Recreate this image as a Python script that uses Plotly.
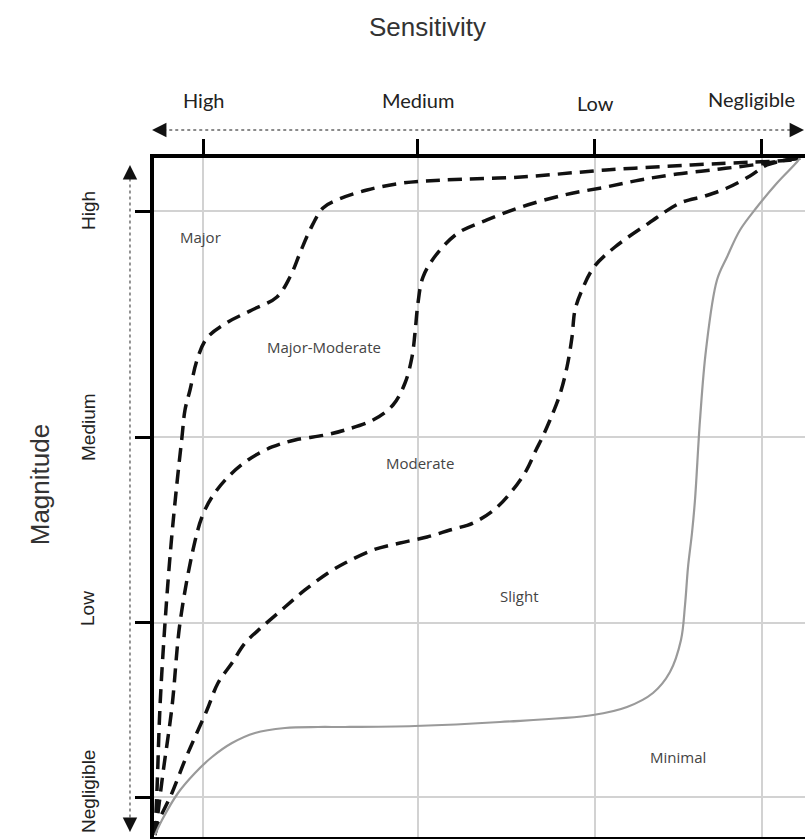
import plotly.graph_objects as go

# ---------------- data ----------------
sens_levels = ["High", "Medium", "Low", "Negligible"]
sens_ticks = [7.53, 40.55, 67.74, 93.39]
mag_levels = ["High", "Medium", "Low", "Negligible"]
mag_ticks = [92.19, 58.91, 31.52, 5.89]

# boundary Major / Major-Moderate
curve_a_x = [0.15, 0.46, 0.92, 1.69, 2.61, 3.53, 4.30, 4.76, 5.53, 6.61, 8.14, 11.37, 15.05,
             18.89, 20.89, 22.43, 23.96, 25.96, 28.11, 32.72, 38.25, 44.39, 56.37, 69.43,
             82.49, 92.17, 98.00, 99.23]
curve_a_y = [0.29, 6.92, 19.15, 31.52, 43.00, 52.14, 58.91, 62.89, 65.83, 70.25, 73.49, 75.85,
             77.61, 79.53, 82.47, 86.01, 89.40, 92.64, 93.81, 95.29, 96.32, 96.76, 97.20, 98.23,
             98.97, 99.41, 99.71, 100.0]

# boundary Major-Moderate / Moderate
curve_b_x = [0.15, 0.61, 1.38, 2.76, 3.99, 5.99, 7.37, 8.91, 11.37, 14.44, 18.13, 21.66, 26.27,
             29.34, 33.64, 36.71, 38.56, 39.63, 40.09, 40.55, 41.32, 43.32, 46.70, 51.15, 56.37,
             62.98, 69.43, 74.65, 80.34, 86.94, 93.09, 98.16, 99.23]
curve_b_y = [0.29, 3.53, 9.43, 19.15, 31.52, 42.27, 47.13, 50.07, 53.02, 55.52, 57.44, 58.47,
             59.20, 59.94, 61.41, 63.62, 66.86, 70.69, 74.23, 78.65, 82.47, 85.71, 88.95, 90.87,
             92.78, 94.55, 95.73, 96.76, 97.64, 98.38, 99.12, 99.85, 100.0]

# boundary Moderate / Slight
curve_c_x = [0.15, 0.61, 2.76, 4.76, 6.30, 8.14, 9.83, 11.98, 13.98, 16.59, 20.12, 23.19, 26.73,
             29.34, 33.64, 37.79, 41.94, 45.47, 49.00, 52.38, 54.99, 57.14, 58.68, 59.60, 60.83,
             62.37, 63.44, 64.21, 64.67, 65.75, 67.59, 70.81, 76.04, 80.80, 84.64, 88.02, 91.55,
             94.16, 97.24, 99.23]
curve_c_y = [0.29, 2.06, 6.48, 11.34, 14.73, 18.70, 22.68, 25.63, 28.57, 30.93, 33.87, 36.38,
             38.88, 40.35, 42.27, 43.30, 44.18, 45.21, 46.24, 48.31, 50.96, 53.90, 57.00, 58.76,
             61.41, 65.24, 69.22, 73.64, 77.61, 80.56, 83.95, 86.89, 90.43, 93.37, 94.40, 95.58,
             97.35, 98.97, 99.71, 100.0]

# boundary Slight / Minimal
curve_d_x = [0.15, 1.23, 3.69, 6.30, 8.91, 11.98, 15.51, 20.12, 25.19, 29.34, 40.09, 53.15,
             67.43, 72.66, 76.65, 79.26, 80.95, 81.57, 82.03, 82.64, 83.10, 83.87, 84.79, 86.48,
             88.02, 90.02, 92.63, 95.70, 98.77, 99.23]
curve_d_y = [0.29, 2.50, 6.48, 9.43, 11.78, 13.84, 15.32, 16.05, 16.20, 16.20, 16.35, 16.94,
             17.97, 19.15, 21.21, 24.30, 29.01, 34.17, 39.76, 44.77, 49.63, 61.41, 71.72, 82.03,
             85.42, 89.40, 92.78, 96.32, 99.41, 100.0]

regions = ["Major", "Major-Moderate", "Moderate", "Slight", "Minimal"]
region_x = [7.2, 26.1, 40.9, 56.2, 80.5]
region_y = [88.4, 72.2, 55.1, 35.5, 11.8]

# ---------------- figure ----------------
fig = go.Figure()

dash_style = dict(color="#111111", width=3.5, dash="14px,8px", shape="spline", smoothing=1.0)
for cx, cy in [(curve_a_x, curve_a_y), (curve_b_x, curve_b_y), (curve_c_x, curve_c_y)]:
    fig.add_trace(go.Scatter(x=cx, y=cy, mode="lines", line=dash_style,
                             hoverinfo="skip", showlegend=False))
fig.add_trace(go.Scatter(x=curve_d_x, y=curve_d_y, mode="lines",
                         line=dict(color="#9a9a9a", width=2.2, shape="spline", smoothing=1.0),
                         hoverinfo="skip", showlegend=False))

annotations = []
for name, x, y in zip(regions, region_x, region_y):
    annotations.append(dict(x=x, y=y, xref="x", yref="y", text=name, showarrow=False,
                            font=dict(family="Open Sans", size=15, color="#444444")))

# sensitivity level labels (top)
top_xshift = [0, 0, 1, -10]
top_yshift = [58, 58, 55, 59]
for lab, t, xs, ys in zip(sens_levels, sens_ticks, top_xshift, top_yshift):
    annotations.append(dict(x=t, y=1, xref="x", yref="paper", text=lab, showarrow=False,
                            xshift=xs, yshift=ys, yanchor="middle",
                            font=dict(family="Lato", size=20, color="#222222")))

# magnitude level labels (left, rotated)
left_yshift = [0, 10, 14, 5]
for lab, t, ys in zip(mag_levels, mag_ticks, left_yshift):
    annotations.append(dict(x=0, y=t, xref="paper", yref="y", text=lab, showarrow=False,
                            xshift=-66, yshift=ys, textangle=-90, xanchor="center",
                            font=dict(family="Liberation Sans", size=19, color="#222222")))

# axis titles
annotations.append(dict(x=0.4194, y=1, xref="paper", yref="paper", text="Sensitivity",
                        showarrow=False, yshift=131, yanchor="middle",
                        font=dict(family="Liberation Sans", size=26, color="#333333")))
annotations.append(dict(x=0, y=0.518, xref="paper", yref="paper", text="Magnitude",
                        showarrow=False, xshift=-131, textangle=-90,
                        font=dict(family="Liberation Sans", size=26, color="#333333")))

# arrowheads for the two double-headed guide arrows
arrow_common = dict(text="", showarrow=True, arrowhead=2, arrowsize=1.8, arrowwidth=1.6,
                    arrowcolor="#111111", axref="pixel", ayref="pixel")
annotations.append(dict(x=-0.003, y=1.0412, xref="paper", yref="paper", ax=14, ay=0, **arrow_common))
annotations.append(dict(x=1.0, y=1.0412, xref="paper", yref="paper", ax=-14, ay=0, **arrow_common))
annotations.append(dict(x=-0.0369, y=0.9897, xref="paper", yref="paper", ax=0, ay=14, **arrow_common))
annotations.append(dict(x=-0.0369, y=0.0074, xref="paper", yref="paper", ax=0, ay=-14, **arrow_common))

shapes = [
    dict(type="line", xref="paper", yref="paper", x0=0.005, x1=0.99, y0=1.0412, y1=1.0412,
         line=dict(color="#666666", width=1.4, dash="dot")),
    dict(type="line", xref="paper", yref="paper", x0=-0.0369, x1=-0.0369, y0=0.02, y1=0.975,
         line=dict(color="#666666", width=1.4, dash="dot")),
]

axis_common = dict(range=[0, 100], showticklabels=False, ticks="outside", ticklen=15,
                   tickwidth=3, tickcolor="black", showline=True, linewidth=4,
                   linecolor="black", showgrid=True, gridcolor="#d2d2d2", gridwidth=1.5,
                   zeroline=False, fixedrange=True)

fig.update_layout(
    width=805, height=839,
    margin=dict(l=154, r=0, t=158, b=2, autoexpand=False),
    paper_bgcolor="white", plot_bgcolor="white",
    xaxis=dict(side="top", tickvals=sens_ticks, mirror=True, **axis_common),
    yaxis=dict(tickvals=mag_ticks, **axis_common),
    annotations=annotations, shapes=shapes,
    showlegend=False,
)

fig.write_html("out.html", config={"displayModeBar": False},
               post_script="document.body.style.margin='0';")
